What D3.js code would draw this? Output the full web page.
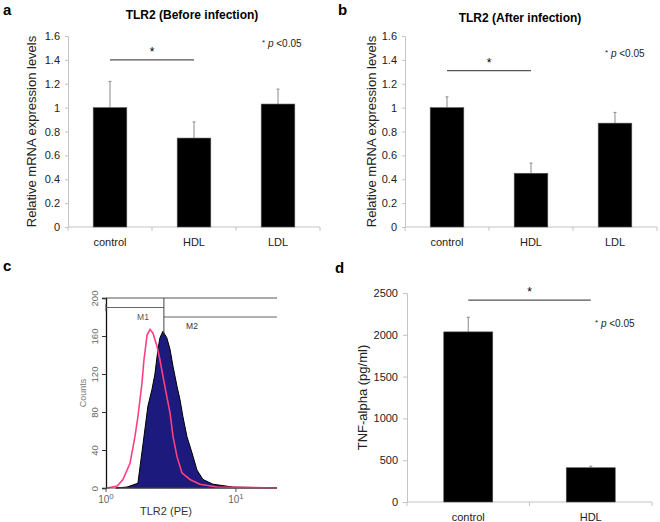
<!DOCTYPE html>
<html>
<head>
<meta charset="utf-8">
<script src="https://cdn.jsdelivr.net/npm/d3@7"></script>
<style>
  body { margin: 0; background: #fff; }
  svg { font-family: "Liberation Sans", Arial, sans-serif; }
</style>
</head>
<body>
<script>
var width = 660;
var height = 522;

// panel a / b : relative TLR2 mRNA
var groups = ['control', 'HDL', 'LDL'];
var beforeMean = [1.0, 0.745, 1.03];
var beforeErr = [1.22, 0.88, 1.155];
var afterMean = [1.0, 0.45, 0.87];
var afterErr = [1.09, 0.535, 0.96];
var mrnaTicks = [0, 0.2, 0.4, 0.6, 0.8, 1, 1.2, 1.4, 1.6];

// panel d : TNF-alpha
var tnfGroups = ['control', 'HDL'];
var tnfMean = [2035, 410];
var tnfErr = [2210, 428];
var tnfTicks = [0, 500, 1000, 1500, 2000, 2500];

// panel c : flow cytometry histogram (fluorescence, counts)
var hdlFluor = [1.19, 1.45, 1.76, 1.93, 2.10, 2.26, 2.38, 2.51, 2.60, 2.74, 2.94, 3.11, 3.28, 3.52, 3.71, 3.91, 4.20, 4.59, 5.01, 5.57, 6.65, 9.48, 20.7];
var hdlCounts = [0, 1, 5, 47, 86, 104, 120, 146, 158, 165, 158, 146, 128, 107, 93, 75, 54, 37, 19, 9, 4, 1, 0];
var ctlFluor = [1.02, 1.22, 1.35, 1.53, 1.67, 1.76, 1.89, 1.96, 2.07, 2.18, 2.30, 2.47, 2.60, 2.74, 2.94, 3.11, 3.28, 3.52, 3.84, 4.43, 5.28, 7.14, 20.7];
var ctlCounts = [0, 2, 9, 26, 54, 75, 110, 135, 161, 167, 163, 149, 135, 118, 96, 79, 54, 33, 16, 9, 4, 1, 0];
var countTicks = [0, 40, 80, 120, 160, 200];
var gates = [
  {name: 'M1', from: 1, to: 2.79, level: 190},
  {name: 'M2', from: 2.79, to: 20.7, level: 180}
];

var svg = d3.select('body').append('svg')
    .attr('width', width)
    .attr('height', height);

svg.append('rect').attr('width', width).attr('height', height).attr('fill', '#fff');

function panelLetter(txt, x, y) {
  svg.append('text').attr('x', x).attr('y', y)
    .attr('font-size', 15).attr('font-weight', 'bold').text(txt);
}

function pNote(g, x, y) {
  var t = g.append('text').attr('x', x).attr('y', y)
    .attr('font-size', 10).attr('fill', '#222');
  t.append('tspan').attr('font-size', 8).attr('dy', -2).text('*');
  t.append('tspan').attr('dy', 2).attr('font-style', 'italic').text(' p');
  t.append('tspan').text(' <0.05');
}

// generic bar panel
function barPanel(opt) {
  var g = svg.append('g');
  var x = d3.scaleBand().domain(opt.cats).range(opt.xr)
      .paddingInner(0.6).paddingOuter(0.3);
  var y = d3.scaleLinear().domain(opt.yd).range(opt.yr);

  var yAxis = g.append('g')
      .attr('transform', 'translate(' + opt.xr[0] + ',0)')
      .call(d3.axisLeft(y).tickValues(opt.ticks).tickSize(opt.tick).tickPadding(opt.pad)
        .tickFormat(d3.format('~g')));
  yAxis.select('.domain').attr('stroke', '#c4c4c4');
  yAxis.selectAll('.tick line').attr('stroke', '#c4c4c4');
  yAxis.selectAll('.tick text').attr('font-size', opt.fs).attr('fill', '#222')
    .attr('font-family', '"Liberation Sans", Arial, sans-serif');

  // x baseline with category boundary ticks
  g.append('line')
    .attr('x1', opt.xr[0]).attr('x2', opt.xr[1])
    .attr('y1', y(0)).attr('y2', y(0))
    .attr('stroke', '#c4c4c4');
  g.selectAll('.xt').data(d3.range(opt.cats.length + 1)).enter().append('line')
    .attr('x1', function(i) { return opt.xr[0] + i * x.step(); })
    .attr('x2', function(i) { return opt.xr[0] + i * x.step(); })
    .attr('y1', y(0)).attr('y2', y(0) + 4)
    .attr('stroke', '#c4c4c4');
  g.selectAll('.xl').data(opt.cats).enter().append('text')
    .attr('x', function(d) { return x(d) + x.bandwidth() / 2; })
    .attr('y', opt.labelY)
    .attr('text-anchor', 'middle')
    .attr('font-size', opt.fs).attr('fill', '#222')
    .text(function(d) { return d; });

  // error bars (upper only)
  g.selectAll('.err').data(opt.cats).enter().append('line')
    .attr('x1', function(d) { return x(d) + x.bandwidth() / 2; })
    .attr('x2', function(d) { return x(d) + x.bandwidth() / 2; })
    .attr('y1', function(d, i) { return y(opt.mean[i]); })
    .attr('y2', function(d, i) { return y(opt.err[i]); })
    .attr('stroke', '#8a8a8a').attr('stroke-width', 1);
  g.selectAll('.cap').data(opt.cats).enter().append('line')
    .attr('x1', function(d) { return x(d) + x.bandwidth() / 2 - 1.5; })
    .attr('x2', function(d) { return x(d) + x.bandwidth() / 2 + 1.5; })
    .attr('y1', function(d, i) { return y(opt.err[i]); })
    .attr('y2', function(d, i) { return y(opt.err[i]); })
    .attr('stroke', '#8a8a8a').attr('stroke-width', 1);

  g.selectAll('.bar').data(opt.cats).enter().append('rect')
    .attr('x', function(d) { return x(d); })
    .attr('y', function(d, i) { return y(opt.mean[i]); })
    .attr('width', x.bandwidth())
    .attr('height', function(d, i) { return y(0) - y(opt.mean[i]); })
    .attr('fill', '#000').attr('stroke', '#555').attr('stroke-width', 0.6);

  // significance bar
  var c0 = x(opt.cats[0]) + x.bandwidth() / 2;
  var c1 = x(opt.cats[1]) + x.bandwidth() / 2;
  g.append('line')
    .attr('x1', c0).attr('x2', c1)
    .attr('y1', y(opt.sig)).attr('y2', y(opt.sig))
    .attr('stroke', '#555').attr('stroke-width', 1.3);
  g.append('text').attr('x', (c0 + c1) / 2).attr('y', y(opt.sig) - 4)
    .attr('text-anchor', 'middle').attr('font-size', 12).text('*');

  // y label
  g.append('text')
    .attr('transform', 'translate(' + opt.ylx + ',' + ((opt.yr[0] + opt.yr[1]) / 2) + ') rotate(-90)')
    .attr('text-anchor', 'middle').attr('font-size', 13).attr('fill', '#222')
    .text(opt.ylabel);

  if (opt.title) {
    g.append('text').attr('x', opt.titleX).attr('y', opt.titleY)
      .attr('text-anchor', 'middle').attr('font-size', 12).attr('font-weight', 'bold')
      .text(opt.title);
  }
  pNote(g, opt.pnote[0], opt.pnote[1]);
}

barPanel({
  cats: groups, mean: beforeMean, err: beforeErr,
  xr: [68, 320], yd: [0, 1.6], yr: [227, 36], ticks: mrnaTicks,
  tick: 3, pad: 5, fs: 11, labelY: 246, sig: 1.4,
  ylabel: 'Relative mRNA expression levels', ylx: 36,
  title: 'TLR2 (Before infection)', titleX: 192, titleY: 19,
  pnote: [262, 47]
});

barPanel({
  cats: groups, mean: afterMean, err: afterErr,
  xr: [405, 657], yd: [0, 1.6], yr: [227, 36], ticks: mrnaTicks,
  tick: 3, pad: 5, fs: 11, labelY: 246, sig: 1.31,
  ylabel: 'Relative mRNA expression levels', ylx: 376,
  title: 'TLR2 (After infection)', titleX: 520, titleY: 22,
  pnote: [605, 57]
});

barPanel({
  cats: tnfGroups, mean: tnfMean, err: tnfErr,
  xr: [407, 652], yd: [0, 2500], yr: [502, 293], ticks: tnfTicks,
  tick: 4, pad: 5, fs: 11, labelY: 521, sig: 2415,
  ylabel: 'TNF-alpha (pg/ml)', ylx: 367,
  pnote: [595, 327]
});

// panel c: histogram
var gc = svg.append('g');
var xc = d3.scaleLog().domain([1, 20.7]).range([106, 277]);
var yc = d3.scaleLinear().domain([0, 200]).range([488, 298]);

var hdlPts = hdlFluor.map(function(f, i) { return [f, hdlCounts[i]]; });
var ctlPts = ctlFluor.map(function(f, i) { return [f, ctlCounts[i]]; });

gc.append('path').datum(hdlPts)
  .attr('d', d3.area()
    .x(function(d) { return xc(d[0]); })
    .y0(yc(0))
    .y1(function(d) { return yc(d[1]); }))
  .attr('fill', '#1c1a7c').attr('stroke', '#000').attr('stroke-width', 1);

gc.append('path').datum(ctlPts)
  .attr('d', d3.line()
    .x(function(d) { return xc(d[0]); })
    .y(function(d) { return yc(d[1]); }))
  .attr('fill', 'none').attr('stroke', '#ff3f7e').attr('stroke-width', 1.6);

var ycAxis = gc.append('g').attr('transform', 'translate(106,0)')
  .call(d3.axisLeft(yc).tickValues(countTicks).tickSize(4).tickFormat(d3.format('d')));
ycAxis.select('.domain').attr('stroke', '#111').attr('stroke-width', 1.3);
ycAxis.selectAll('.tick line').attr('stroke', '#333');
ycAxis.selectAll('.tick text')
  .attr('x', 0).attr('dy', '0.35em')
  .attr('text-anchor', 'middle')
  .attr('transform', 'translate(-11,0) rotate(-90)')
  .attr('font-size', 9.5).attr('fill', '#666')
  .attr('font-family', '"Liberation Sans", Arial, sans-serif');

gc.append('line').attr('x1', 106).attr('x2', 277).attr('y1', yc(0)).attr('y2', yc(0))
  .attr('stroke', '#555');
gc.selectAll('.xct').data([1, 10]).enter().append('line')
  .attr('x1', function(d) { return xc(d); }).attr('x2', function(d) { return xc(d); })
  .attr('y1', yc(0)).attr('y2', yc(0) + 4).attr('stroke', '#555');
var xcl = gc.selectAll('.xcl').data([0, 1]).enter().append('text')
  .attr('x', function(d) { return xc(Math.pow(10, d)); })
  .attr('y', 503).attr('text-anchor', 'middle')
  .attr('font-size', 10).attr('fill', '#666');
xcl.append('tspan').text('10');
xcl.append('tspan').attr('dy', -4).attr('font-size', 8).text(function(d) { return d; });

gc.append('text').attr('x', 166).attr('y', 515).attr('text-anchor', 'middle')
  .attr('font-size', 11).attr('fill', '#333').text('TLR2 (PE)');
gc.append('text').attr('transform', 'translate(86,' + yc(100) + ') rotate(-90)')
  .attr('text-anchor', 'middle').attr('font-size', 9).attr('fill', '#777').text('Counts');

// top frame and marker gates
gc.append('line').attr('x1', 106).attr('x2', 277).attr('y1', yc(200)).attr('y2', yc(200))
  .attr('stroke', '#555');
gc.selectAll('.gate').data(gates).enter().append('line')
  .attr('x1', function(d) { return xc(d.from); }).attr('x2', function(d) { return xc(d.to); })
  .attr('y1', function(d) { return yc(d.level); }).attr('y2', function(d) { return yc(d.level); })
  .attr('stroke', '#666');
gc.append('line').attr('x1', xc(gates[0].from)).attr('x2', xc(gates[0].from))
  .attr('y1', yc(194)).attr('y2', yc(186)).attr('stroke', '#444');
gc.append('line').attr('x1', xc(gates[1].from)).attr('x2', xc(gates[1].from))
  .attr('y1', yc(200)).attr('y2', yc(162)).attr('stroke', '#444');
gc.append('text').attr('x', 143).attr('y', 320).attr('text-anchor', 'middle')
  .attr('font-size', 8.5).attr('fill', '#555').text('M1');
gc.append('text').attr('x', 192).attr('y', 329).attr('text-anchor', 'middle')
  .attr('font-size', 8.5).attr('fill', '#333').text('M2');

panelLetter('a', 3, 15);
panelLetter('b', 338, 15);
panelLetter('c', 3, 271);
panelLetter('d', 335, 273);
</script>
</body>
</html>
